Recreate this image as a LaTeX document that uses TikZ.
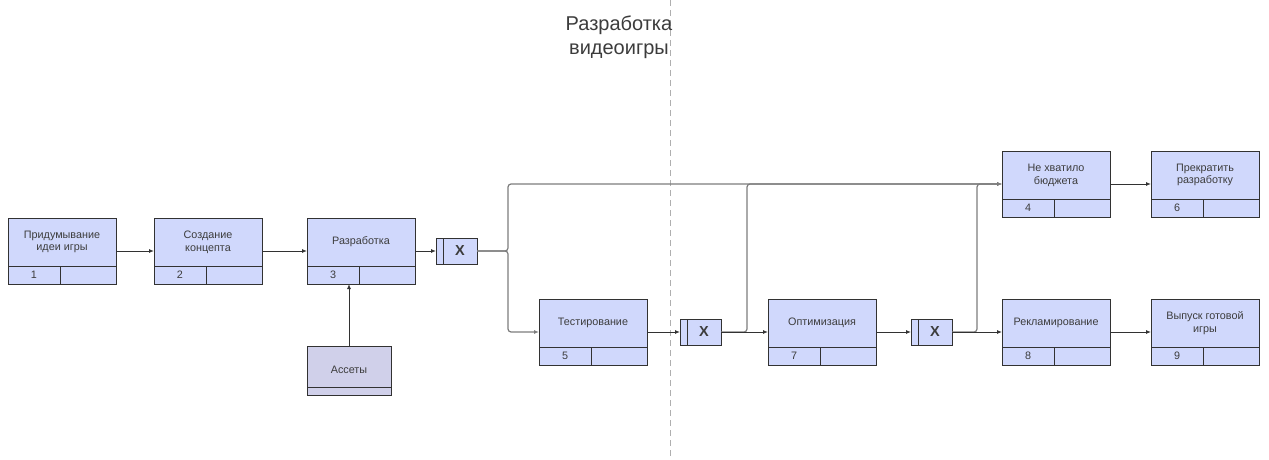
\documentclass[tikz,border=0pt]{standalone}
\usepackage{fontspec}
\setmainfont{Liberation Sans}
\usetikzlibrary{arrows.meta}
\definecolor{boxfill}{RGB}{208,216,252}
\definecolor{assetfill}{RGB}{208,208,234}
\definecolor{txt}{RGB}{60,60,60}
\definecolor{edge}{RGB}{50,50,50}
\definecolor{branchc}{RGB}{125,125,125}
\definecolor{dashc}{RGB}{175,175,175}
\tikzset{
  actbox/.style={draw=edge, fill=boxfill, line width=0.9pt, inner sep=0pt, outer sep=0pt},
  assetbox/.style={draw=edge, fill=assetfill, line width=0.9pt, inner sep=0pt, outer sep=0pt},
  boxline/.style={draw=edge, line width=0.9pt},
  boxtext/.style={text=txt, font=\fontsize{10.8}{12.8}\selectfont, align=center, inner sep=0pt},
  gatetext/.style={text=txt, font=\fontsize{14.5}{16}\selectfont\bfseries, inner sep=0pt},
  conn/.style={draw=edge, line width=0.9pt, -{Latex[length=5pt,width=4pt]}},
  branch/.style={draw=branchc, line width=1.2pt, rounded corners=3pt, -{Latex[length=5pt,width=4pt]}},
  divline/.style={draw=dashc, line width=0.9pt, dash pattern=on 6pt off 4pt},
  titletext/.style={text=txt, font=\fontsize{20}{24}\selectfont, align=center}
}
\newcommand\actbox[4]{% name, x, y, text
  \node[actbox, minimum width=108pt, minimum height=66pt, anchor=north west] (#1) at (#2,#3) {};
  \draw[boxline] ([yshift=18pt]#1.south west) -- ([yshift=18pt]#1.south east);
  \draw[boxline] ([xshift=52pt]#1.south west) -- ([xshift=52pt,yshift=18pt]#1.south west);
  \node[boxtext] (#1t) at ([yshift=9pt]#1.center) {#4};
}
\newcommand\actnum[2]{\node[boxtext] (#1n) at ([xshift=26pt,yshift=9pt]#1.south west) {#2};}
\newcommand\gate[3]{% name, x, y
  \node[actbox, minimum width=41pt, minimum height=26pt, anchor=north west] (#1) at (#2,#3) {};
  \draw[boxline] ([xshift=7pt]#1.south west) -- ([xshift=7pt]#1.north west);
  \node[gatetext] (#1x) at ([xshift=3.5pt]#1.center) {X};
}
\begin{document}
\begin{tikzpicture}[x=1pt,y=-1pt]
\useasboundingbox (0,0) rectangle (1269,460);
\draw[divline] (670,0) -- (670,460);
\node[titletext] (title) at (619,37) {Разработка\\видеоигры};

\actbox{b1}{8}{218}{Придумывание\\идеи игры}
\actnum{b1}{1}
\actbox{b2}{154}{218}{Создание\\концепта}
\actnum{b2}{2}
\actbox{b3}{307}{218}{Разработка}
\actnum{b3}{3}
\actbox{b4}{1002}{151}{Не хватило\\бюджета}
\actnum{b4}{4}
\actbox{b5}{539}{299}{Тестирование}
\actnum{b5}{5}
\actbox{b6}{1151}{151}{Прекратить\\разработку}
\actnum{b6}{6}
\actbox{b7}{768}{299}{Оптимизация}
\actnum{b7}{7}
\actbox{b8}{1002}{299}{Рекламирование}
\actnum{b8}{8}
\actbox{b9}{1151}{299}{Выпуск готовой\\игры}
\actnum{b9}{9}

\node[assetbox, minimum width=84pt, minimum height=49pt, anchor=north west] (as) at (307,346) {};
\draw[boxline] ([yshift=8pt]as.south west) -- ([yshift=8pt]as.south east);
\node[boxtext] (ast) at (349,370) {Ассеты};

\gate{g1}{436}{238}
\gate{g2}{680}{319}
\gate{g3}{911}{319}

\coordinate (s1) at (508,251);
\coordinate (s2) at (747,332);
\coordinate (s3) at (977,332);

\draw[branch] (g1.east) -- (s1) |- (b4.west);
\draw[branch] (g1.east) -- (s1) |- (b5.west);
\draw[branch] (g2.east) -- (s2) |- (b4.west);
\draw[branch] (g3.east) -- (s3) |- (b4.west);

\draw[conn] (b1.east) -- (b2.west);
\draw[conn] (b2.east) -- (b3.west);
\draw[conn] (b3.east) -- (g1.west);
\draw[conn] (as.north) -- (as.north |- b3.south);
\draw[conn] (b5.east) -- (g2.west);
\draw[conn] (g2.east) -- (b7.west);
\draw[conn] (b7.east) -- (g3.west);
\draw[conn] (g3.east) -- (b8.west);
\draw[conn] (b4.east) -- (b6.west);
\draw[conn] (b8.east) -- (b9.west);
\end{tikzpicture}
\end{document}
